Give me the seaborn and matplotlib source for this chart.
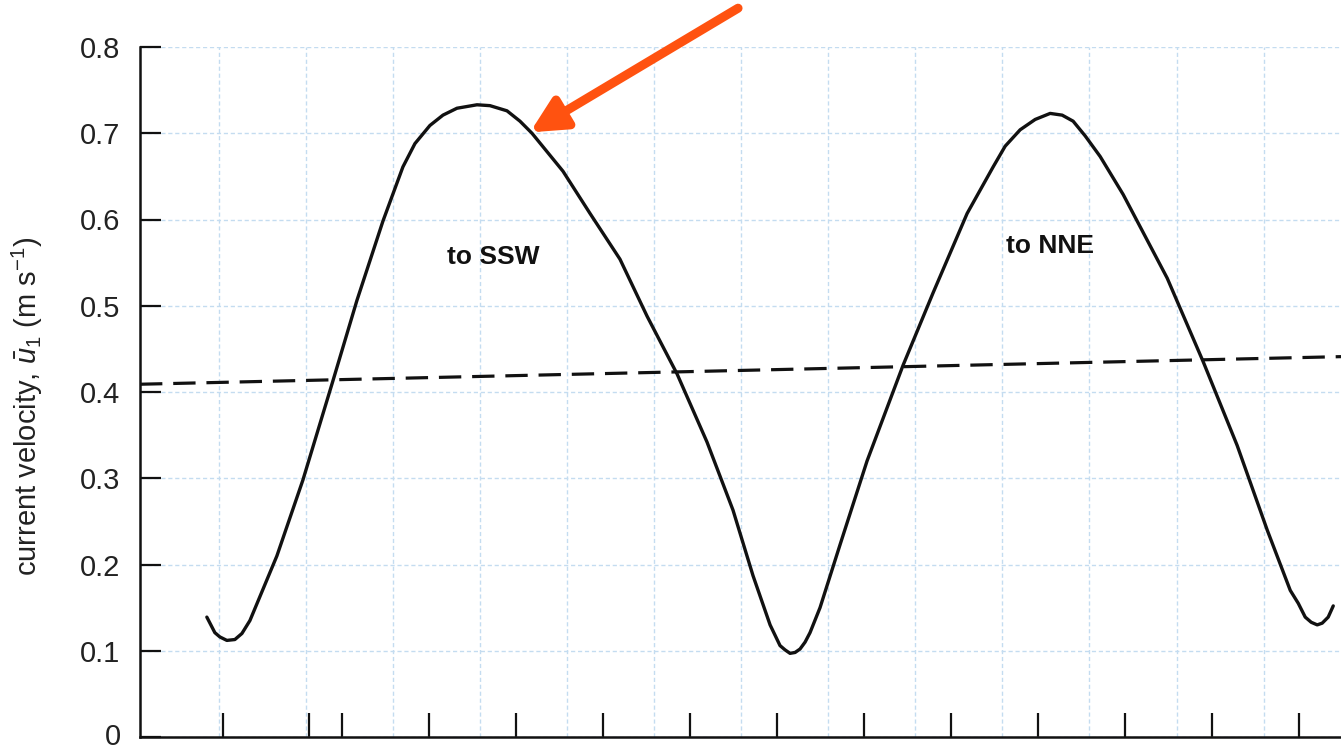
import numpy as np
import pandas as pd
import matplotlib
matplotlib.use("Agg")
import matplotlib.pyplot as plt
import matplotlib.transforms as mtransforms
import seaborn as sns

# ---- data (time in hours, velocity in m/s) ----
time_h = [-1.552, -1.460, -1.402, -1.322, -1.230, -1.149, -1.057, -0.747, -0.448, -0.103,
          0.172, 0.471, 0.701, 0.839, 1.011, 1.161, 1.322, 1.552, 1.701, 1.897,
          2.046, 2.184, 2.540, 2.851, 3.195, 3.506, 3.851, 4.195, 4.494, 4.724,
          4.920, 4.977, 5.034, 5.092, 5.149, 5.207, 5.264, 5.322, 5.379, 5.494,
          5.724, 6.034, 6.448, 6.793, 7.184, 7.483, 7.621, 7.793, 7.966, 8.138,
          8.276, 8.402, 8.540, 8.713, 8.977, 9.483, 9.897, 10.287, 10.632, 10.897,
          10.989, 11.069, 11.138, 11.207, 11.264, 11.333, 11.391]
velocity = [0.139, 0.121, 0.116, 0.112, 0.113, 0.120, 0.135, 0.210, 0.298, 0.413,
            0.506, 0.598, 0.661, 0.688, 0.709, 0.721, 0.729, 0.733, 0.732, 0.726,
            0.714, 0.700, 0.656, 0.607, 0.554, 0.488, 0.421, 0.342, 0.263, 0.187,
            0.130, 0.118, 0.106, 0.101, 0.097, 0.098, 0.102, 0.110, 0.121, 0.150,
            0.223, 0.320, 0.431, 0.515, 0.607, 0.661, 0.685, 0.704, 0.716, 0.723,
            0.721, 0.714, 0.697, 0.673, 0.629, 0.532, 0.435, 0.338, 0.240, 0.170,
            0.155, 0.139, 0.133, 0.130, 0.132, 0.139, 0.152]

mean_time = [-2.32, 11.48]
mean_velocity = [0.409, 0.441]

x_ticks = [-1.37, -0.38, 0, 1, 2, 3, 4, 5, 6, 7, 8, 9, 10, 11]
y_ticks = [0, 0.1, 0.2, 0.3, 0.4, 0.5, 0.6, 0.7, 0.8]
y_ticklabels = ["0", "0.1", "0.2", "0.3", "0.4", "0.5", "0.6", "0.7", "0.8"]

labels = ["to SSW", "to NNE"]
label_time = [1.736, 8.138]
label_velocity = [0.557, 0.569]

ylabel_text = r"current velocity, $\bar{u}_1$ (m s$^{-1}$)"

curve = pd.DataFrame({"time": time_h, "velocity": velocity})
mean = pd.DataFrame({"time": mean_time, "velocity": mean_velocity})

sns.set_theme(style="white")
plt.rcParams["font.family"] = ["Liberation Sans", "DejaVu Sans"]
plt.rcParams["mathtext.fontset"] = "custom"
plt.rcParams["mathtext.rm"] = "Liberation Sans"
plt.rcParams["mathtext.it"] = "Liberation Sans:italic"

fig = plt.figure(figsize=(13.41, 7.54), dpi=100)
ax = fig.add_axes([140 / 1341, 1 - 737 / 754, 1201 / 1341, 690 / 754])

grid_color = "#c4dcf0"
# graph-paper grid
ax.set_xticks(np.arange(-2, 12) + 0.59, minor=True)
ax.grid(which="minor", axis="x", color=grid_color, linestyle=(0, (3, 2)), linewidth=1.0)
ax.grid(which="major", axis="y", color=grid_color, linestyle=(0, (3, 2)), linewidth=1.0)
ax.grid(which="major", axis="x", visible=False)
ax.set_axisbelow(True)

sns.lineplot(data=mean, x="time", y="velocity", ax=ax, color="#111111",
             linewidth=2.3, dashes=False, linestyle=(0, (7, 3.4)))
sns.lineplot(data=curve, x="time", y="velocity", ax=ax, color="#111111",
             linewidth=2.4, sort=False)
ax.lines[-1].set_solid_joinstyle("round")
ax.lines[-1].set_solid_capstyle("round")

ax.set_xlim(-2.32, 11.48)
ax.set_ylim(0, 0.8)
ax.set_xticks(x_ticks)
ax.set_xticklabels([])
ax.set_yticks(y_ticks)
ax.set_yticklabels(y_ticklabels, fontsize=21)
ax.tick_params(axis="x", which="major", direction="in", length=17, width=1.6,
               color="#111111", bottom=True)
ax.tick_params(axis="x", which="minor", length=0)
ax.tick_params(axis="y", direction="in", length=15, width=1.6, color="#111111",
               pad=14, left=True, labelcolor="#222222")

# keep the "0" label fully inside the figure
zero_label = ax.get_yticklabels()[0]
zero_label.set_transform(zero_label.get_transform() +
                         mtransforms.ScaledTranslation(0, 3 / 100, fig.dpi_scale_trans))

for side in ["top", "right"]:
    ax.spines[side].set_visible(False)
for side in ["left", "bottom"]:
    ax.spines[side].set_color("#111111")
    ax.spines[side].set_linewidth(1.8)

ax.set_xlabel("")
ax.set_ylabel(ylabel_text, fontsize=21, color="#222222")
ax.yaxis.set_label_coords(-0.079, 0.48)

for txt, tx, ty in zip(labels, label_time, label_velocity):
    ax.text(tx, ty, txt, ha="center", va="center", fontsize=19, fontweight="bold",
            color="#111111")

ax.annotate("", xy=(2.161, 0.701), xytext=(4.552, 0.845),
            annotation_clip=False,
            arrowprops=dict(arrowstyle="-|>", color="#FF5210", lw=6.5,
                            mutation_scale=52, shrinkA=0, shrinkB=0))

fig.savefig("out.png", dpi=100, facecolor="white")
